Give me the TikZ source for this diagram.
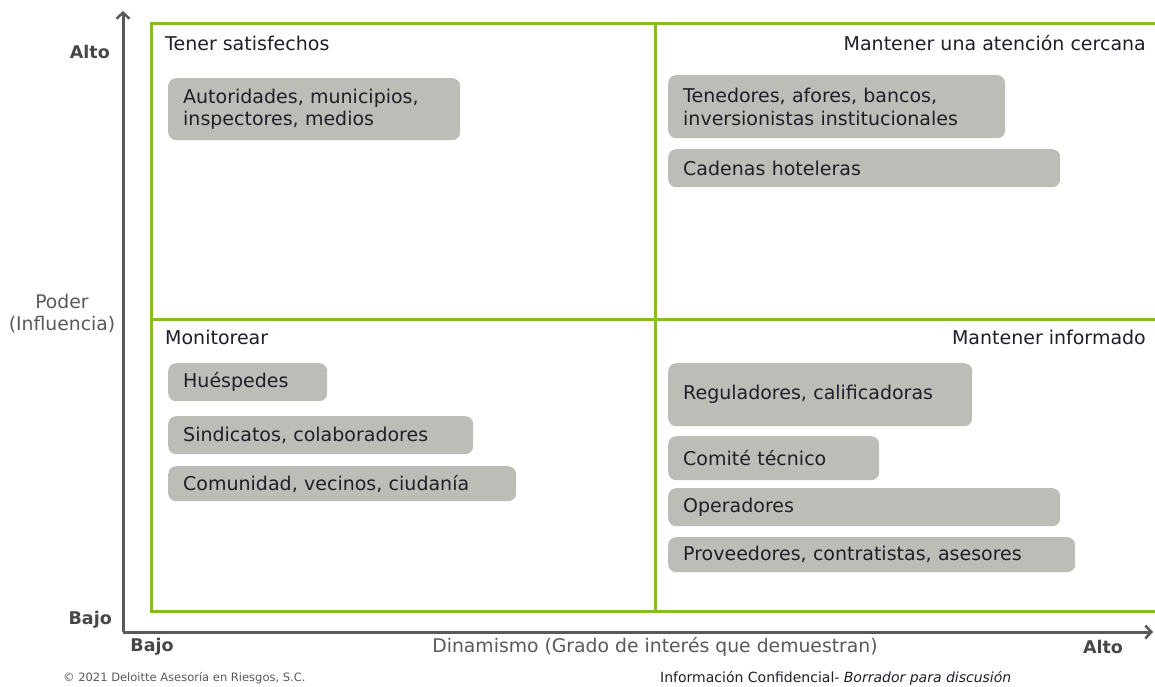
\documentclass[tikz,border=0pt]{standalone}
\usepackage{fontspec}
\setmainfont{DejaVu Sans}
\usepackage[rgb]{xcolor}
\usepackage{tikz}
\usetikzlibrary{arrows.meta}

\definecolor{quadgreen}{HTML}{86BC25}
\definecolor{boxgray}{HTML}{BDBDB8}
\definecolor{axisgray}{HTML}{58595B}
\definecolor{inkdark}{HTML}{1F1F2A}

\tikzset{
  axis/.style={axisgray, line width=3pt, -{Straight Barb[length=6pt, width=13pt, line width=2.5pt]}},
  quadline/.style={quadgreen, line width=3pt},
  stakebox/.style={fill=boxgray, rounded corners=8pt, anchor=north west,
    inner xsep=15pt, inner ysep=0pt, align=left, text=inkdark,
    font=\fontsize{19}{22.5}\selectfont},
  quadtitle/.style={inner sep=0pt, text=inkdark, font=\fontsize{19}{22}\selectfont},
  levellabel/.style={inner sep=0pt, text=axisgray!80!black, font=\bfseries\fontsize{17.5}{22}\selectfont},
  axislabel/.style={inner sep=0pt, align=center, text=axisgray, font=\fontsize{18.8}{22}\selectfont}
}

% a box of given width and height, placed by its top left corner
\newcommand{\stake}[6]{%
  \node[stakebox, text width=#4pt-30pt, minimum height=#5pt] (#1) at (#2,#3) {#6};}

\begin{document}
\begin{tikzpicture}[x=1pt, y=-1pt]

\clip (0,0) rectangle (1155,686);

%% green quadrant grid
 \draw[quadline] (151,23) rectangle (1170,611);
 \draw[quadline] (655,23) -- (655,611);
 \draw[quadline] (151,319) -- (1170,319);

%% axes
\path
(123,632) coordinate (origin)
(123,11) coordinate (ytop)
(1153,632) coordinate (xend);

\draw[axis] (origin) -- (ytop);
\draw[axis] (origin) -- (xend);

%% quadrant titles
\path
(165,43) node[quadtitle, anchor=west] (satisfechos){Tener satisfechos}
(1146,43) node[quadtitle, anchor=east] (cercana){Mantener una atención cercana}
(165,337) node[quadtitle, anchor=west] (monitorear){Monitorear}
(1146,337) node[quadtitle, anchor=east] (informado){Mantener informado};

%% stakeholders
\stake{autoridades}{168}{78}{292}{62}{Autoridades, municipios,\\inspectores, medios}
\stake{tenedores}{668}{75}{337}{63}{Tenedores, afores, bancos,\\inversionistas institucionales}
\stake{cadenas}{668}{149}{392}{38}{Cadenas hoteleras}
\stake{huespedes}{168}{363}{159}{38}{Huéspedes}
\stake{sindicatos}{168}{416}{305}{38}{Sindicatos, colaboradores}
\stake{comunidad}{168}{466}{348}{35}{Comunidad, vecinos, ciudanía}
\stake{reguladores}{668}{363}{304}{63}{Reguladores, calificadoras}
\stake{comite}{668}{436}{211}{44}{Comité técnico}
\stake{operadores}{668}{488}{392}{38}{Operadores}
\stake{proveedores}{668}{537}{407}{35}{Proveedores, contratistas, asesores}

%% axis labels
\path
(110,52) node[levellabel, anchor=east] (yalto){Alto}
(112,620) node[levellabel, anchor=east] (ybajo){Bajo}
(152,647) node[levellabel] (xbajo){Bajo}
(1103,647) node[levellabel] (xalto){Alto}
(62,314) node[axislabel] (poder){Poder\\(Influencia)}
(655,647) node[axislabel] (dinamismo){Dinamismo (Grado de interés que demuestran)};

%% footer
\path
(63,678) node[anchor=west, inner sep=0pt, text=axisgray, font=\fontsize{11.5}{13}\selectfont] (copyright){© 2021 Deloitte Asesoría en Riesgos, S.C.}
(660,678) node[anchor=west, inner sep=0pt, text=inkdark, font=\fontsize{14}{16}\selectfont] (borrador){Información Confidencial- \textit{Borrador para discusión}};

\end{tikzpicture}
\end{document}
